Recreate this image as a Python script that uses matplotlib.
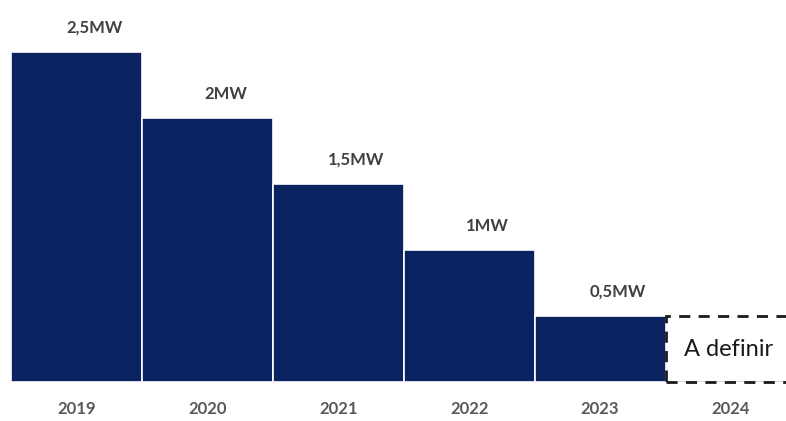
import matplotlib
matplotlib.use("Agg")
import matplotlib.pyplot as plt
from matplotlib.patches import Rectangle

years = ["2019", "2020", "2021", "2022", "2023", "2024"]
values = [2.5, 2.0, 1.5, 1.0, 0.5]
labels = ["2,5MW", "2MW", "1,5MW", "1MW", "0,5MW"]
pending_value = 0.5
pending_label = "A definir"

plt.rcParams['font.family'] = ['Lato', 'DejaVu Sans']

fig = plt.figure(figsize=(7.86, 4.21), dpi=100)
ax = fig.add_axes([11/786, 39/421, 775/786, 382/421])

xs = list(range(len(values)))
ax.bar(xs, values, width=1.0, color='#0b2260', edgecolor='white', linewidth=1.2, zorder=2)

for x, v, lab in zip(xs, values, labels):
    ax.annotate(lab, (x, v), xytext=(18, 24), textcoords='offset pixels',
                ha='center', va='center', fontsize=12, fontweight='bold', color='#404040')

# pending box for 2024
px = len(values)
rect = Rectangle((px - 0.5, 0), 1.0, pending_value, fill=False, edgecolor='#1a1a1a',
                 linestyle=(0, (4, 3)), linewidth=2, zorder=3, clip_on=False)
ax.add_patch(rect)
ax.text(px - 0.02, pending_value / 2, pending_label, ha='center', va='center',
        fontsize=17, color='#1a1a1a')

ax.axhline(0, color='#d0d0d0', linewidth=1.2, zorder=1)

ax.set_xlim(-0.5, 5.42)
ax.set_ylim(0, 382/132)
ax.set_xticks(range(len(years)))
ax.set_xticklabels(years, fontsize=12, fontweight='bold', color='#595959')
ax.tick_params(axis='x', length=0, pad=14)
ax.set_yticks([])
for s in ax.spines.values():
    s.set_visible(False)

fig.savefig("out.png", dpi=100)
